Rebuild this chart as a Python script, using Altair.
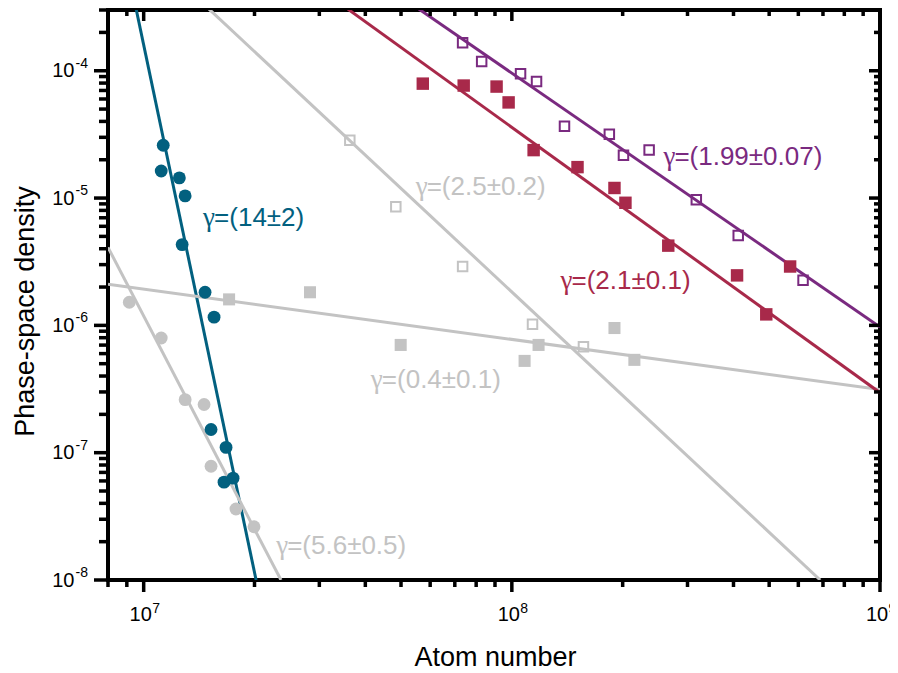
import altair as alt
import pandas as pd

# ---------------- data ----------------
# teal circles  (gamma = 14 +- 2)
teal_x = [1.13e7, 1.116e7, 1.25e7, 1.296e7, 1.272e7, 1.468e7, 1.553e7, 1.524e7, 1.674e7, 1.653e7, 1.749e7]
teal_y = [2.60e-5, 1.63e-5, 1.44e-5, 1.04e-5, 4.31e-6, 1.82e-6, 1.16e-6, 1.52e-7, 1.10e-7, 5.87e-8, 6.31e-8]

# grey circles (gamma = 5.6 +- 0.5)
grey_circ_x = [9.14e6, 1.116e7, 1.296e7, 1.459e7, 1.524e7, 1.781e7, 1.994e7]
grey_circ_y = [1.52e-6, 7.96e-7, 2.61e-7, 2.39e-7, 7.83e-8, 3.61e-8, 2.62e-8]

# grey open squares (gamma = 2.5 +- 0.2)
grey_open_x = [3.63e7, 4.84e7, 7.35e7, 1.138e8, 1.565e8]
grey_open_y = [2.84e-5, 8.53e-6, 2.90e-6, 1.02e-6, 6.78e-7]

# grey filled squares (gamma = 0.4 +- 0.1)
grey_sq_x = [1.706e7, 2.83e7, 4.99e7, 1.083e8, 1.182e8, 1.90e8, 2.152e8]
grey_sq_y = [1.60e-6, 1.82e-6, 7.02e-7, 5.26e-7, 7.02e-7, 9.53e-7, 5.36e-7]

# crimson filled squares (gamma = 2.1 +- 0.1)
crim_x = [5.73e7, 7.40e7, 9.09e7, 9.80e7, 1.146e8, 1.508e8, 1.90e8, 2.035e8, 2.66e8, 4.09e8, 4.91e8, 5.70e8]
crim_y = [7.92e-5, 7.65e-5, 7.51e-5, 5.64e-5, 2.38e-5, 1.75e-5, 1.20e-5, 9.18e-6, 4.23e-6, 2.47e-6, 1.22e-6, 2.90e-6]

# purple open squares (gamma = 1.99 +- 0.07)
purp_x = [7.35e7, 8.28e7, 1.056e8, 1.167e8, 1.39e8, 1.84e8, 2.01e8, 2.36e8, 3.17e8, 4.12e8, 6.18e8]
purp_y = [1.66e-4, 1.18e-4, 9.48e-5, 8.22e-5, 3.66e-5, 3.17e-5, 2.17e-5, 2.38e-5, 9.68e-6, 5.07e-6, 2.26e-6]

# fitted power-law lines: two end points each
fit_names = ["14", "5.6", "2.5", "0.4", "2.1", "1.99"]
fit_x = [[9.54e6, 2.02e7], [8.0e6, 2.36e7], [1.505e7, 6.88e8], [8.0e6, 1e9], [3.585e7, 1e9], [5.59e7, 1e9]]
fit_y = [[3.05e-4, 1e-8], [4.10e-6, 1e-8], [3.05e-4, 1e-8], [2.10e-6, 3.13e-7], [3.05e-4, 2.96e-7], [3.05e-4, 9.71e-7]]

# annotation texts (gamma symbol + value)
label_text = ["=(14±2)", "=(2.5±0.2)", "=(1.99±0.07)", "=(2.1±0.1)", "=(0.4±0.1)", "=(5.6±0.5)"]
label_x = [1.45e7, 5.48e7, 2.58e8, 1.356e8, 4.14e7, 2.29e7]
label_y = [7.0e-6, 1.22e-5, 2.10e-5, 2.22e-6, 3.74e-7, 1.86e-8]

# axis ticks
x_major = [1e7, 1e8, 1e9]
x_minor = [8e6, 9e6] + [k * 1e7 for k in range(2, 10)] + [k * 1e8 for k in range(2, 10)]
y_major = [1e-8, 1e-7, 1e-6, 1e-5, 1e-4]
y_minor = [k * 10.0 ** e for e in range(-8, -4) for k in range(2, 10)] + [2e-4, 3e-4]

# ---------------- styling ----------------
TEAL = "#02607f"
GREY = "#c3c3c3"
CRIM = "#a8294a"
PURP = "#7a2a80"
FONT = "Liberation Sans"
TICK = "black"
W, H = 772, 570

fit_colors = [TEAL, GREY, GREY, GREY, CRIM, PURP]
label_colors = [TEAL, GREY, PURP, CRIM, GREY, GREY]

xs = alt.Scale(type="log", domain=[8e6, 1e9], nice=False)
ys = alt.Scale(type="log", domain=[1e-8, 3e-4], nice=False)

EXP = "'' + round(log(datum.value) / LN10)"

common = dict(grid=False, domain=False, ticks=False, labelFlush=False, labelOverlap=False,
              labelColor="black", labelFont=FONT, titleFont=FONT,
              titleColor="black", titleFontWeight="normal")

ax_x_major = alt.Axis(orient="bottom", values=x_major,
                      labelExpr="'10'", labelFontSize=20, labelBaseline="alphabetic",
                      labelPadding=40, labelOffset=-3.5, title="Atom number", titleFontSize=27,
                      titleX=387, titleY=85, titleBaseline="alphabetic", **common)
ax_x_exp = alt.Axis(orient="bottom", values=x_major, labelExpr=EXP,
                    labelFontSize=14, labelAlign="left", labelOffset=8, labelBaseline="alphabetic",
                    labelPadding=32, title=None, **common)

ax_y_major = alt.Axis(orient="left", values=y_major,
                      labelExpr="'10'", labelFontSize=20, labelAlign="right",
                      labelBaseline="middle", labelPadding=34,
                      title="Phase-space density", titleFontSize=27, titleX=-75, titleY=301,
                      titleBaseline="alphabetic", **common)
ax_y_exp = alt.Axis(orient="left", values=y_major, labelExpr=EXP,
                    labelFontSize=14, labelAlign="left", labelBaseline="middle",
                    labelOffset=-7.5, labelPadding=33, title=None, **common)

# ---------------- tables ----------------
def pts(xv, yv):
    return pd.DataFrame({"x": xv, "y": yv})

fits = pd.DataFrame({
    "name": [n for n in fit_names for _ in range(2)],
    "color": [c for c in fit_colors for _ in range(2)],
    "x": [v for pair in fit_x for v in pair],
    "y": [v for pair in fit_y for v in pair],
})
labels = pd.DataFrame({"text": label_text, "x": label_x, "y": label_y, "color": label_colors})

# ---------------- tick marks (frame ticks, driven by the scales) ----------------
def xticks(vals, y0, y1):
    return alt.Chart(pd.DataFrame({"v": vals})).mark_rule(
        color=TICK, strokeWidth=3.5).encode(
        x=alt.X("v:Q", scale=xs, axis=None), y=alt.value(y0), y2=alt.value(y1))

def yticks(vals, x0, x1):
    return alt.Chart(pd.DataFrame({"v": vals})).mark_rule(
        color=TICK, strokeWidth=3.5).encode(
        y=alt.Y("v:Q", scale=ys, axis=None), x=alt.value(x0), x2=alt.value(x1))

tick_layers = [
    xticks(x_major, H, H + 12), xticks(x_minor, H, H + 7),     # bottom, outward
    xticks(x_major, 0, 11), xticks(x_minor, 0, 6),             # top, inward
    yticks(y_major, -14, 0), yticks(y_minor, -9, 0),           # left, outward
    yticks(y_major, W - 11, W), yticks(y_minor, W - 6, W),     # right, inward
]

# ---------------- layers ----------------
lines = alt.Chart(fits).mark_line(strokeWidth=3, clip=True).encode(
    x=alt.X("x:Q", scale=xs, axis=None),
    y=alt.Y("y:Q", scale=ys, axis=None),
    color=alt.Color("color:N", scale=None),
    detail="name:N",
)

teal = alt.Chart(pts(teal_x, teal_y)).mark_circle(size=165, opacity=1, color=TEAL).encode(
    x=alt.X("x:Q", scale=xs, axis=ax_x_major),
    y=alt.Y("y:Q", scale=ys, axis=ax_y_major),
)
grey_c = alt.Chart(pts(grey_circ_x, grey_circ_y)).mark_circle(size=165, opacity=1, color=GREY).encode(
    x=alt.X("x:Q", scale=xs, axis=ax_x_exp),
    y=alt.Y("y:Q", scale=ys, axis=ax_y_exp),
)
grey_o = alt.Chart(pts(grey_open_x, grey_open_y)).mark_point(
    shape="square", filled=False, size=90, strokeWidth=2, opacity=1, color=GREY).encode(
    x=alt.X("x:Q", scale=xs, axis=None),
    y=alt.Y("y:Q", scale=ys, axis=None),
)
grey_s = alt.Chart(pts(grey_sq_x, grey_sq_y)).mark_square(size=145, opacity=1, color=GREY).encode(
    x=alt.X("x:Q", scale=xs, axis=None),
    y=alt.Y("y:Q", scale=ys, axis=None),
)
crim = alt.Chart(pts(crim_x, crim_y)).mark_square(size=155, opacity=1, color=CRIM).encode(
    x=alt.X("x:Q", scale=xs, axis=None),
    y=alt.Y("y:Q", scale=ys, axis=None),
)
purp = alt.Chart(pts(purp_x, purp_y)).mark_point(
    shape="square", filled=False, size=90, strokeWidth=2, opacity=1, color=PURP).encode(
    x=alt.X("x:Q", scale=xs, axis=None),
    y=alt.Y("y:Q", scale=ys, axis=None),
)
gammas = alt.Chart(labels).mark_text(align="left", baseline="middle", fontSize=27,
                                     font="Liberation Serif", text="γ").encode(
    x=alt.X("x:Q", scale=xs, axis=None),
    y=alt.Y("y:Q", scale=ys, axis=None),
    color=alt.Color("color:N", scale=None),
)
texts = alt.Chart(labels).mark_text(align="left", baseline="middle", fontSize=26, font=FONT,
                                    dx=11).encode(
    x=alt.X("x:Q", scale=xs, axis=None),
    y=alt.Y("y:Q", scale=ys, axis=None),
    text="text:N",
    color=alt.Color("color:N", scale=None),
)

chart = alt.layer(lines, grey_c, grey_s, grey_o, teal, crim, purp, gammas, texts,
                  *tick_layers).resolve_axis(
    x="independent", y="independent"
).properties(
    width=W, height=H,
    autosize=alt.AutoSizeParams(type="none"),
    padding={"left": 100, "top": 2, "right": 10, "bottom": 90},
).configure_view(stroke="black", strokeWidth=4)

chart.save("out.html", embed_options={"renderer": "svg", "actions": False})
